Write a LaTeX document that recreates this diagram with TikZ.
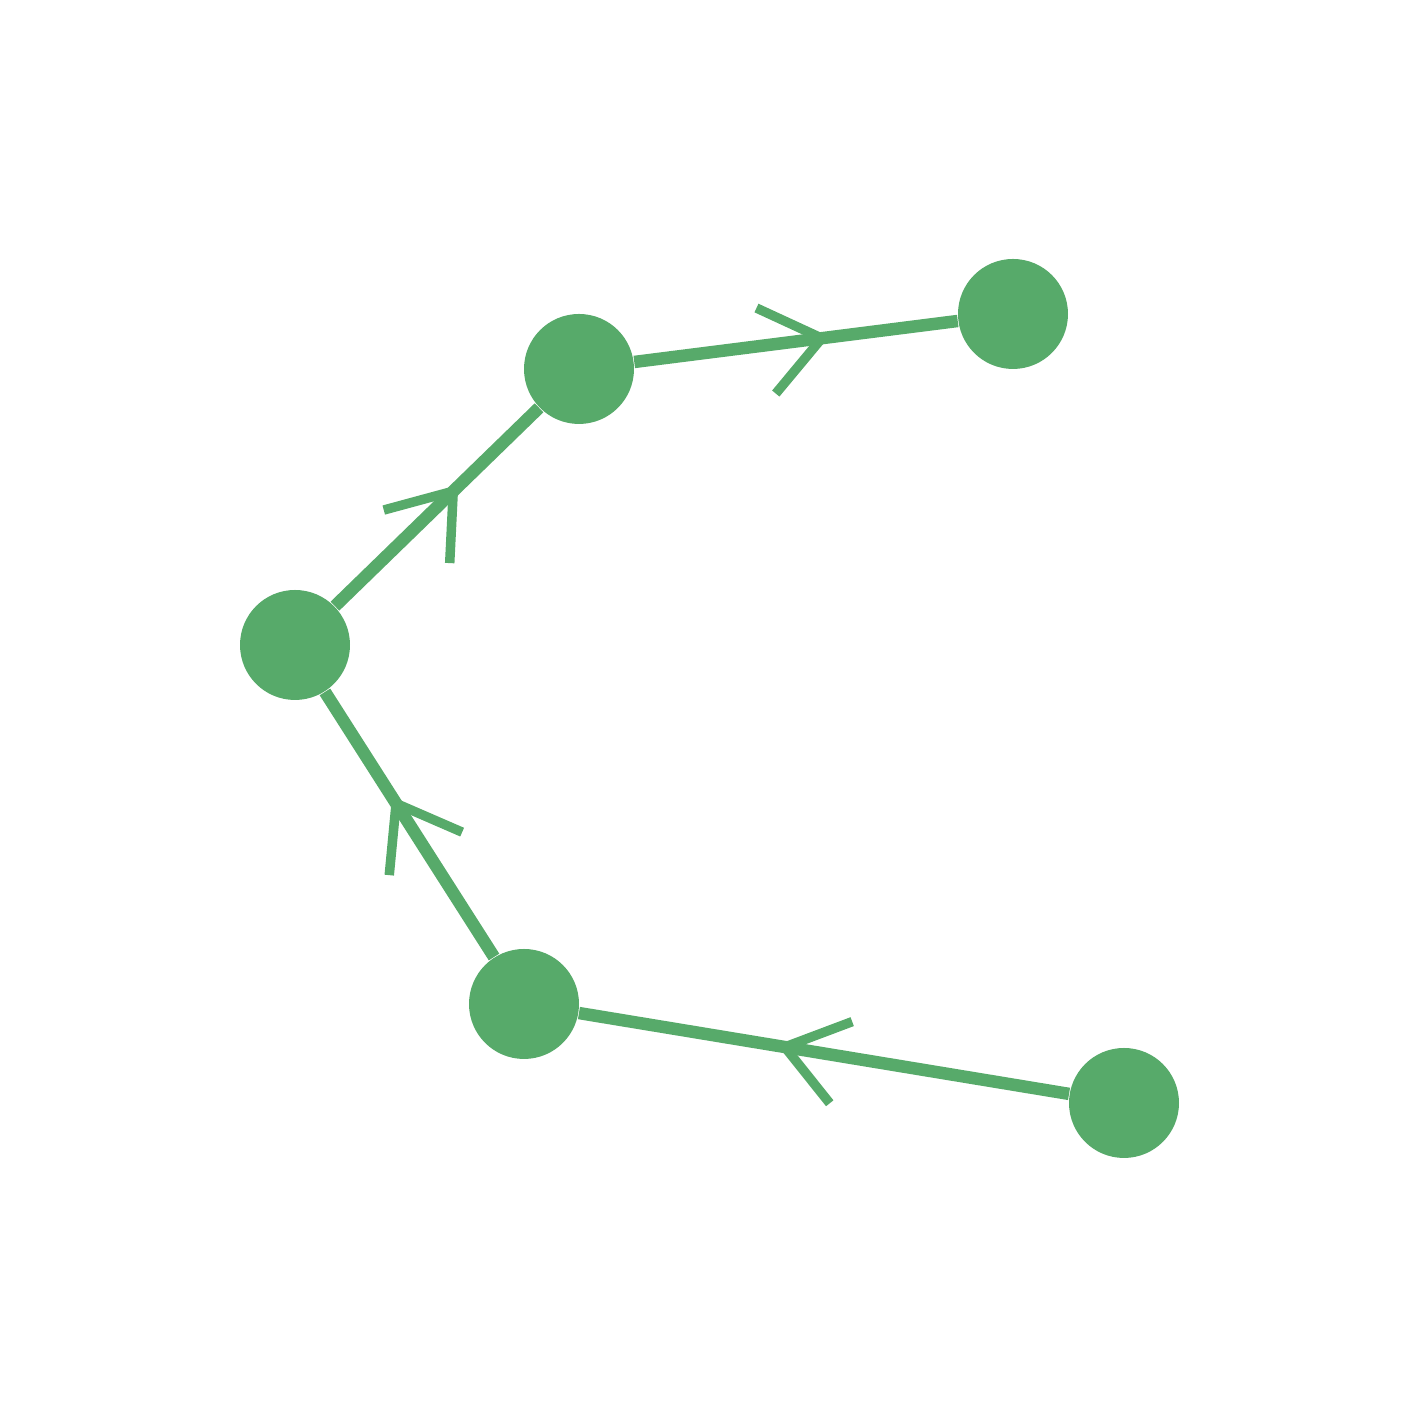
\documentclass[tikz,border=0pt]{standalone}
\usepackage{xcolor}
\definecolor{NodeGreen}{RGB}{87,170,106}
\usepackage{tikz}
\usetikzlibrary{decorations.markings}
\tikzset{
  % Filled vertex
  vertex/.style={
    circle,
    fill=NodeGreen,
    minimum size=11mm,
    inner sep=0pt
  },
  % Open arrow head strokes
  barb/.style={
    draw=NodeGreen,
    line width=2.7pt,
    line join=round
  },
  % Directed edge, head near the middle (left and right opening angles)
  dedge/.style 2 args={
    draw=NodeGreen,
    line width=3.55pt,
    postaction={decorate, decoration={markings,
      mark=at position 0.58 with {\draw[barb] (180-#1:7.2mm) -- (0,0) -- (180+#2:7.2mm);}}}
  }
}

\begin{document}
\begin{tikzpicture}
  \useasboundingbox (0,0) rectangle (14.19,14.18);

  \node[vertex] (v1) at (11.24,3.15)  {};
  \node[vertex] (v2) at (5.24,4.14)   {};
  \node[vertex] (v3) at (2.95,7.73)   {};
  \node[vertex] (v4) at (5.79,10.49)  {};
  \node[vertex] (v5) at (10.13,11.04) {};

  \draw[dedge={42}{30}] (v1) -- (v2);
  \draw[dedge={38}{34}] (v2) -- (v3);
  \draw[dedge={29}{43}] (v3) -- (v4);
  \draw[dedge={32}{43}] (v4) -- (v5);
\end{tikzpicture}
\end{document}
